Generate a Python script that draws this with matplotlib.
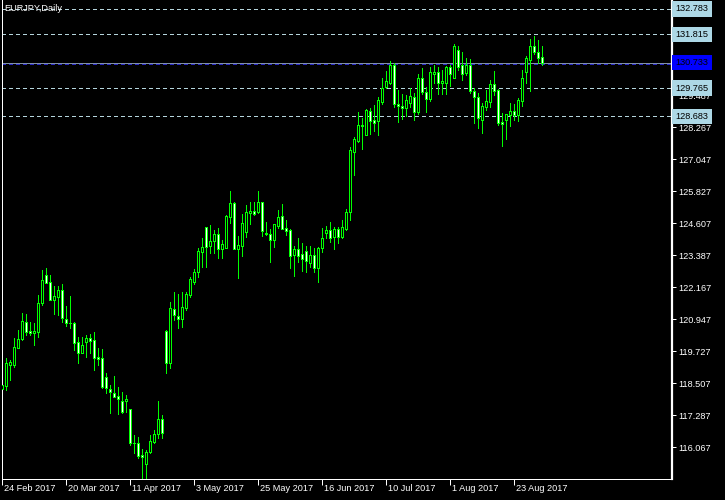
import numpy as np
import matplotlib
matplotlib.use("Agg")
import matplotlib.pyplot as plt
from matplotlib import transforms

# ---------------- data (EURJPY daily) ----------------
opens = [118.30, 118.42, 119.22, 119.20, 119.87, 120.18, 120.85, 120.50, 120.41, 120.48,
         121.56, 122.64, 122.37, 121.68, 121.81, 122.07, 120.96, 120.80, 120.82, 120.10,
         119.65, 120.10, 120.24, 120.16, 119.50, 119.46, 118.74, 118.29, 118.13, 118.02,
         117.85, 117.83, 117.52, 116.22, 116.22, 115.78, 115.42, 115.88, 116.26, 116.56,
         117.15, 120.51, 119.28, 121.33, 121.07, 120.95, 121.39, 121.87, 122.38, 122.74,
         123.53, 124.45, 123.74, 123.93, 124.20, 123.63, 123.68, 124.86, 125.39, 123.63,
         123.76, 124.26, 125.00, 125.08, 125.05, 125.41, 124.21, 124.19, 123.96, 124.52,
         124.89, 124.42, 124.35, 123.39, 123.61, 123.42, 123.56, 123.11, 123.39, 122.92,
         123.65, 124.25, 124.35, 124.07, 124.38, 124.10, 124.39, 125.05, 127.34, 127.76,
         128.32, 127.99, 128.90, 128.55, 128.52, 129.24, 129.82, 129.94, 130.64, 129.15,
         129.08, 129.02, 129.21, 129.44, 128.86, 130.13, 129.60, 129.35, 130.30, 130.39,
         129.97, 129.94, 130.55, 130.16, 131.21, 130.63, 130.35, 130.63, 129.66, 129.41,
         128.55, 129.03, 129.25, 129.91, 129.69, 128.46, 128.53, 128.72, 128.89, 128.74,
         129.28, 130.39, 130.83, 131.37, 131.13, 130.93]
highs = [119.14, 119.46, 119.40, 120.22, 120.54, 121.18, 121.15, 120.86, 120.79, 121.87,
         122.83, 122.89, 122.64, 122.22, 122.22, 122.28, 121.47, 121.84, 120.86, 120.29,
         120.26, 120.35, 120.39, 120.48, 119.84, 119.80, 118.91, 118.44, 118.79, 118.38,
         118.19, 118.06, 117.52, 116.54, 116.45, 116.00, 115.97, 116.54, 116.73, 117.83,
         117.30, 120.55, 121.62, 121.99, 121.91, 121.99, 121.99, 122.57, 122.85, 123.65,
         124.04, 124.48, 124.54, 124.35, 124.44, 123.97, 124.92, 125.84, 125.43, 124.12,
         124.96, 125.30, 125.41, 125.41, 125.84, 125.41, 124.67, 124.38, 124.57, 125.11,
         125.34, 124.73, 124.38, 123.74, 124.04, 123.84, 123.74, 123.74, 123.65, 123.72,
         124.44, 124.50, 124.64, 124.48, 124.48, 124.73, 125.15, 127.50, 127.88, 128.85,
         128.61, 128.96, 128.99, 129.12, 129.41, 130.13, 130.41, 130.79, 130.73, 129.69,
         129.54, 129.50, 129.78, 129.56, 130.29, 130.54, 129.82, 130.58, 130.64, 130.58,
         130.45, 130.60, 130.64, 131.44, 131.37, 131.13, 130.90, 130.86, 129.75, 129.56,
         129.18, 129.69, 130.07, 130.41, 129.72, 128.80, 128.77, 129.18, 129.16, 129.37,
         130.45, 130.99, 131.63, 131.75, 131.60, 131.37]
lows = [118.15, 118.25, 118.63, 119.14, 119.87, 120.16, 120.35, 120.35, 119.97, 120.26,
        121.49, 122.32, 121.68, 121.15, 121.11, 120.86, 120.69, 120.60, 119.78, 119.30,
        119.65, 119.52, 119.68, 119.02, 119.21, 118.32, 118.13, 117.39, 118.00, 117.33,
        117.36, 117.43, 116.16, 115.84, 115.65, 114.85, 114.85, 115.84, 116.22, 116.44,
        116.44, 118.89, 119.09, 120.92, 120.60, 120.67, 121.30, 121.79, 122.29, 122.57,
        122.93, 122.95, 123.49, 123.49, 123.30, 123.30, 123.65, 124.61, 123.63, 122.53,
        123.37, 124.10, 124.58, 124.91, 124.99, 124.14, 124.16, 123.15, 123.72, 124.42,
        124.40, 124.16, 122.92, 122.61, 123.15, 122.80, 122.76, 122.95, 122.76, 122.38,
        123.53, 124.06, 123.91, 123.63, 123.84, 124.04, 124.35, 124.73, 126.45, 127.72,
        127.44, 127.99, 128.01, 128.14, 127.97, 129.16, 129.75, 129.90, 129.05, 128.48,
        128.58, 128.71, 129.05, 128.55, 128.77, 129.52, 128.86, 129.27, 129.94, 129.54,
        129.54, 129.54, 129.85, 130.13, 130.45, 130.07, 130.26, 129.59, 128.44, 128.23,
        128.06, 128.93, 129.03, 129.50, 128.36, 127.55, 127.82, 128.32, 128.55, 128.51,
        129.08, 129.97, 129.66, 131.05, 130.71, 130.64]
closes = [118.45, 119.27, 119.31, 119.90, 120.20, 120.88, 120.48, 120.41, 120.50, 121.56,
          122.45, 122.35, 121.68, 121.84, 122.05, 121.01, 120.79, 120.82, 120.06, 119.65,
          119.97, 120.22, 120.13, 119.49, 119.42, 118.38, 118.32, 118.16, 118.00, 117.91,
          117.40, 117.91, 116.22, 116.25, 115.75, 115.69, 115.90, 116.31, 116.58, 117.15,
          116.63, 119.28, 121.37, 121.11, 120.95, 121.41, 121.90, 122.48, 122.74, 123.55,
          123.69, 123.72, 123.93, 124.20, 123.63, 123.82, 124.89, 125.39, 123.63, 123.78,
          124.61, 125.05, 125.08, 124.96, 125.41, 124.33, 124.23, 123.96, 124.57, 124.85,
          124.40, 124.33, 123.37, 123.61, 123.37, 123.25, 123.18, 123.40, 122.89, 123.65,
          124.04, 124.35, 124.06, 124.38, 124.10, 124.45, 125.05, 127.40, 127.81, 128.34,
          128.34, 128.93, 128.52, 128.42, 129.30, 129.75, 130.03, 130.64, 129.14, 129.09,
          129.02, 129.31, 129.46, 128.84, 130.13, 129.60, 129.35, 130.39, 130.39, 129.97,
          130.05, 130.55, 130.29, 131.37, 130.58, 130.30, 130.63, 129.66, 129.41, 128.61,
          129.08, 129.27, 129.91, 129.66, 128.44, 128.39, 128.76, 128.89, 128.74, 129.31,
          130.13, 130.90, 131.37, 131.13, 130.90, 130.733]

date_labels = ["24 Feb 2017", "20 Mar 2017", "11 Apr 2017", "3 May 2017", "25 May 2017",
               "16 Jun 2017", "10 Jul 2017", "1 Aug 2017", "23 Aug 2017"]
date_bar_index = [0, 16, 32, 48, 64, 80, 96, 112, 128]

price_ticks = [116.067, 117.287, 118.507, 119.727, 120.947, 122.167, 123.387, 124.607,
               125.827, 127.047, 128.267, 129.487, 130.707, 131.927]
# tick labels hidden behind the level boxes in the reference
hidden_ticks = [130.707, 131.927]
hline_levels = [132.783, 131.815, 129.765, 128.683]
bid_price = 130.733
title = "EURJPY,Daily"

# ---------------- drawing ----------------
FONT = ["Liberation Sans", "DejaVu Sans"]
FS = 6.6
LIME = "#00FF00"
PX = 0.72  # one pixel in points at dpi 100

fig = plt.figure(figsize=(7.25, 5.0), dpi=100, facecolor="black")
ax = fig.add_axes([2 / 725, 21 / 500, 670 / 725, 479 / 500])
ax.set_facecolor("black")

o = np.array(opens); h = np.array(highs); l = np.array(lows); c = np.array(closes)
x = np.arange(len(o))

ax.set_xlim(0, 167.5)
ax.set_ylim(114.86, 133.12)

# horizontal level lines
for lv in hline_levels:
    ax.axhline(lv, color="#B4D4DC", lw=PX, dashes=(4, 3), zorder=1, antialiased=False)
ax.axhline(bid_price, color="#8090A8", lw=PX, zorder=1, antialiased=False)
off = transforms.offset_copy(ax.transData, fig=fig, x=0, y=-1.5, units="dots")
ax.plot([0, 167.5], [bid_price, bid_price], color="#2828C8", lw=PX, dashes=(4, 3),
        transform=off, zorder=1, antialiased=False)

# candles
ax.vlines(x, l, h, color=LIME, lw=PX, zorder=2, antialiased=False)
bull = c >= o
body_bottom = np.minimum(o, c)
body_h = np.maximum(np.abs(c - o), 0.01)
fills = np.where(bull, "black", "white")
ax.bar(x, body_h, bottom=body_bottom, width=0.5, color=list(fills), edgecolor=LIME,
       linewidth=PX, zorder=3, antialiased=False)

# spines
for s in ["left", "bottom", "right"]:
    ax.spines[s].set_color("white")
    ax.spines[s].set_linewidth(PX)
ax.spines["top"].set_visible(False)
ax.spines["right"].set_linewidth(1.6)

# y ticks on the right
ax.yaxis.tick_right()
ax.set_yticks(price_ticks)
ax.set_yticklabels(["" if t in hidden_ticks else f"{t:.3f}" for t in price_ticks],
                   color="white", fontsize=FS, family=FONT)
ax.tick_params(axis="y", colors="white", length=3, width=PX, pad=1.5, direction="out")

# x ticks
ax.set_xticks(date_bar_index)
ax.set_xticklabels([""] * len(date_bar_index))
ax.tick_params(axis="x", colors="white", length=4, width=PX, direction="out")
bt = transforms.blended_transform_factory(ax.transData, ax.transAxes)
for idx, lab in zip(date_bar_index, date_labels):
    ax.text(idx + 0.5, -0.019, lab, transform=bt, color="white", fontsize=FS,
            family=FONT, ha="left", va="center", clip_on=False)

# level labels
yt = transforms.blended_transform_factory(ax.transAxes, ax.transData)
for lv in hline_levels:
    ax.text(1.0055, lv, f"{lv:.3f}", transform=yt, color="black", fontsize=FS,
            family=FONT, ha="left", va="center", zorder=10, clip_on=False,
            bbox=dict(boxstyle="square,pad=0.35", fc="#ADD8E6", ec="none"))
ax.text(1.0055, bid_price, f"{bid_price:.3f}", transform=yt, color="black", fontsize=FS,
        family=FONT, ha="left", va="center", zorder=10, clip_on=False,
        bbox=dict(boxstyle="square,pad=0.35", fc="#0000FF", ec="none"))

# title
ax.text(0.003, 0.982, title, transform=ax.transAxes, color="white", fontsize=FS,
        family=FONT, ha="left", va="center", zorder=10)

fig.savefig("out.png", dpi=100, facecolor="black")
